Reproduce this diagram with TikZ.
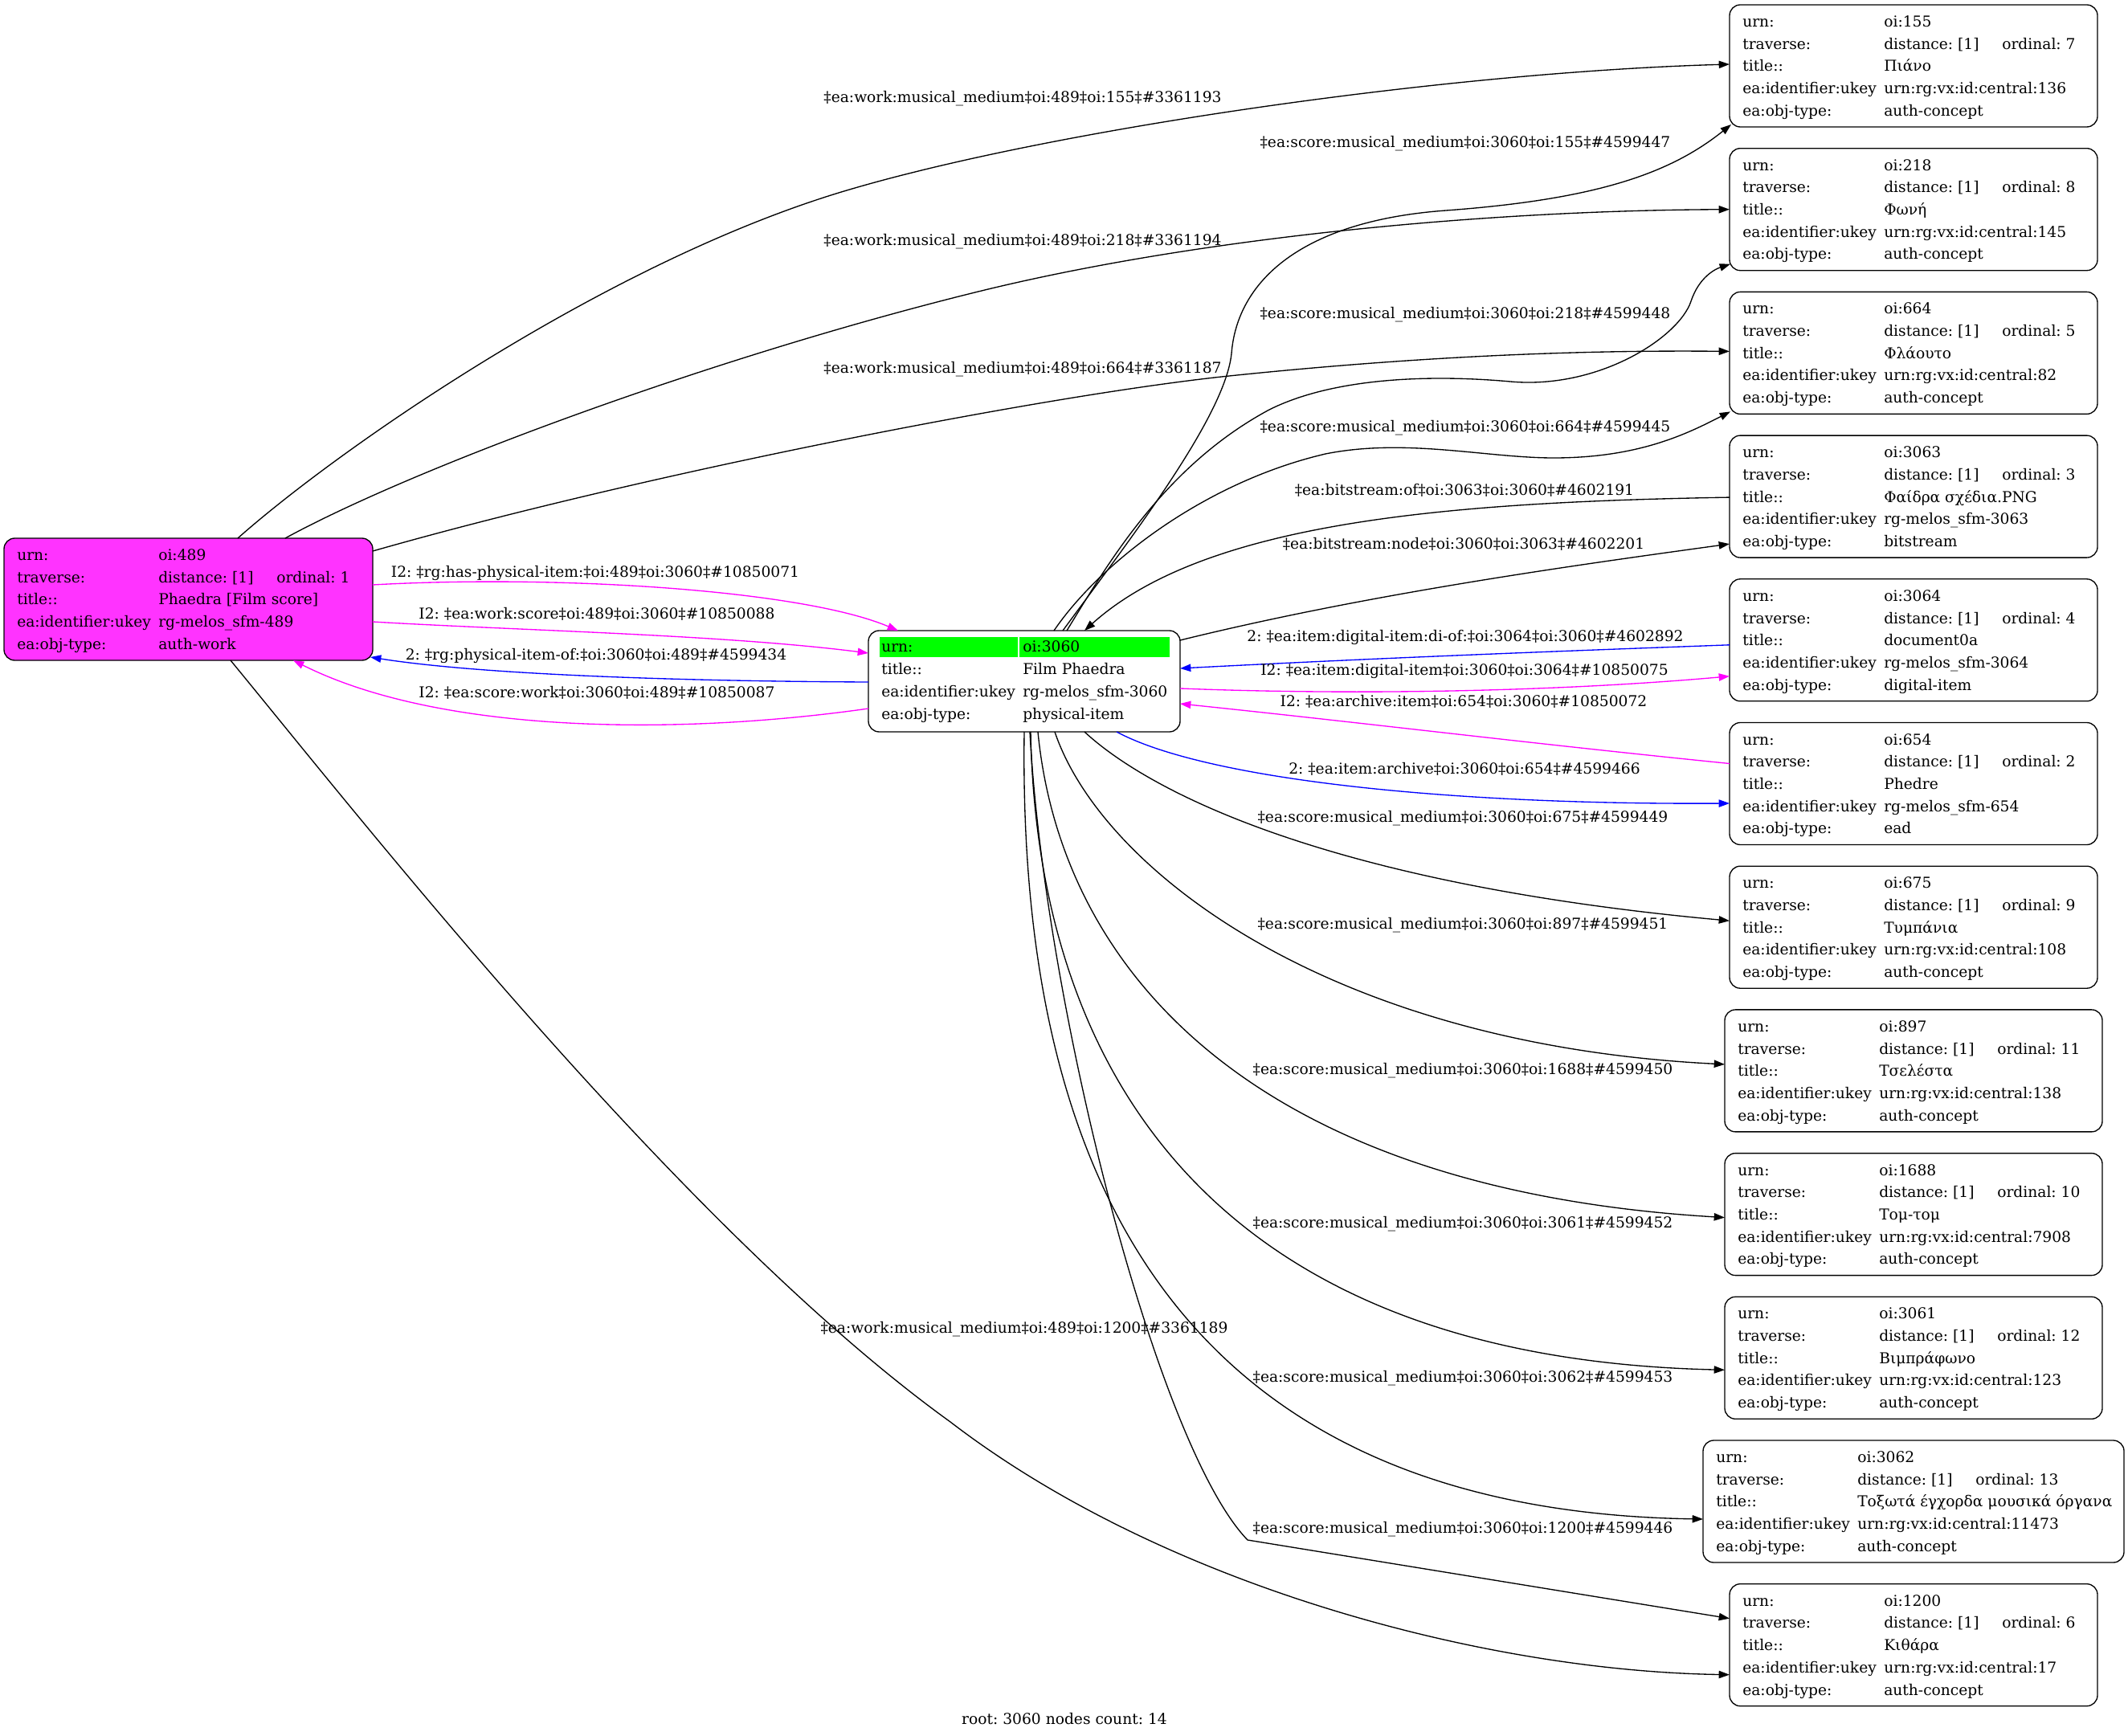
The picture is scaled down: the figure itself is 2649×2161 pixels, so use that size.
\documentclass[tikz,border=0pt]{standalone}
\usepackage{fontspec}
\setmainfont{DejaVu Serif}
\usetikzlibrary{calc,arrows.meta}
\definecolor{lmag}{RGB}{255,51,255}
\definecolor{mag}{RGB}{255,0,255}
\definecolor{blu}{RGB}{0,0,255}
\definecolor{grn}{RGB}{0,255,0}
\newcommand\fs{\fontsize{14pt}{17pt}\selectfont\frenchspacing}
\def\pxu{0.75pt}
\tikzset{
  recbox/.style={draw=black, line width=1pt, rounded corners=10pt, fill=white, inner sep=0pt, outer sep=0pt},
  cell/.style={anchor=base west, inner sep=0pt, font=\fs},
  lab/.style={inner sep=0pt, font=\fs},
  conn/.style={line width=1pt, -{Triangle[length=10pt,width=7pt]}},
}
% name, left, top, width, urn, ordinal, title, ukey, objtype
\newcommand\fullrec[9]{%
  \node[recbox, minimum width={#4*\pxu}, minimum height={152*\pxu}, anchor=north west] (#1) at (#2,#3) {};
  \node[cell] (#1-k1) at ($(#1.north west)+(16,27.5)$) {urn:};
  \node[cell] (#1-v1) at ($(#1.north west)+(192,27.5)$) {#5};
  \node[cell] (#1-k2) at ($(#1.north west)+(16,55.2)$) {traverse:};
  \node[cell] (#1-v2) at ($(#1.north west)+(192,55.2)$) {distance: [1]};
  \node[cell] (#1-o2) at ($(#1.north west)+(339,55.2)$) {ordinal: #6};
  \node[cell] (#1-k3) at ($(#1.north west)+(16,82.9)$) {title::};
  \node[cell] (#1-v3) at ($(#1.north west)+(192,82.9)$) {#7};
  \node[cell] (#1-k4) at ($(#1.north west)+(16,110.6)$) {ea:identifier:ukey};
  \node[cell] (#1-v4) at ($(#1.north west)+(192,110.6)$) {#8};
  \node[cell] (#1-k5) at ($(#1.north west)+(16,138.3)$) {ea:obj-type:};
  \node[cell] (#1-v5) at ($(#1.north west)+(192,138.3)$) {#9};
}
\begin{document}
\begin{tikzpicture}[x=0.75pt, y=-0.75pt]
\useasboundingbox (0,0) rectangle (2649,2161);

% ---------- nodes ----------
\begin{scope}[recbox/.append style={fill=lmag}]
\fullrec{n489}{5}{670}{459}{oi:489}{1}{Phaedra [Film score]}{rg-melos\_sfm-489}{auth-work}
\end{scope}

\node[recbox, minimum width={388*\pxu}, minimum height={126*\pxu}, anchor=north west] (n3060) at (1081,785) {};
\fill[grn] ($(n3060.north west)+(14,8)$) rectangle ($(n3060.north west)+(186,33)$);
\fill[grn] ($(n3060.north west)+(188,8)$) rectangle ($(n3060.north west)+(375,33)$);
\node[cell] (n3060-k1) at ($(n3060.north west)+(16,26)$) {urn:};
\node[cell] (n3060-v1) at ($(n3060.north west)+(192,26)$) {oi:3060};
\node[cell] (n3060-k2) at ($(n3060.north west)+(16,54)$) {title::};
\node[cell] (n3060-v2) at ($(n3060.north west)+(192,54)$) {Film Phaedra};
\node[cell] (n3060-k3) at ($(n3060.north west)+(16,82)$) {ea:identifier:ukey};
\node[cell] (n3060-v3) at ($(n3060.north west)+(192,82)$) {rg-melos\_sfm-3060};
\node[cell] (n3060-k4) at ($(n3060.north west)+(16,110)$) {ea:obj-type:};
\node[cell] (n3060-v4) at ($(n3060.north west)+(192,110)$) {physical-item};

\fullrec{r155}{2153}{6}{458}{oi:155}{7}{Πιάνο}{urn:rg:vx:id:central:136}{auth-concept}
\fullrec{r218}{2153}{184.7}{458}{oi:218}{8}{Φωνή}{urn:rg:vx:id:central:145}{auth-concept}
\fullrec{r664}{2153}{363.4}{458}{oi:664}{5}{Φλάουτο}{urn:rg:vx:id:central:82}{auth-concept}
\fullrec{r3063}{2153}{542.1}{458}{oi:3063}{3}{Φαίδρα σχέδια.PNG}{rg-melos\_sfm-3063}{bitstream}
\fullrec{r3064}{2153}{720.8}{458}{oi:3064}{4}{document0a}{rg-melos\_sfm-3064}{digital-item}
\fullrec{r654}{2153}{899.5}{458}{oi:654}{2}{Phedre}{rg-melos\_sfm-654}{ead}
\fullrec{r675}{2153}{1078.2}{458}{oi:675}{9}{Τυμπάνια}{urn:rg:vx:id:central:108}{auth-concept}
\fullrec{r897}{2147}{1256.9}{470}{oi:897}{11}{Τσελέστα}{urn:rg:vx:id:central:138}{auth-concept}
\fullrec{r1688}{2147}{1435.6}{470}{oi:1688}{10}{Τομ-τομ}{urn:rg:vx:id:central:7908}{auth-concept}
\fullrec{r3061}{2147}{1614.3}{470}{oi:3061}{12}{Βιμπράφωνο}{urn:rg:vx:id:central:123}{auth-concept}
\fullrec{r3062}{2120}{1793}{524}{oi:3062}{13}{Τοξωτά έγχορδα μουσικά όργανα}{urn:rg:vx:id:central:11473}{auth-concept}
\fullrec{r1200}{2153}{1971.7}{458}{oi:1200}{6}{Κιθάρα}{urn:rg:vx:id:central:17}{auth-concept}

% ---------- edges from 489 ----------
\draw[conn] ($(n489.north west)+(291,0)$) .. controls (420,560) and (750,330) .. (1044,240) .. controls (1300,162) and (1800,90) .. ($(r155.west)+(0,-2)$);
\draw[conn] ($(n489.north west)+(350,0)$) .. controls (520,580) and (900,440) .. (1230,360) .. controls (1500,295) and (1850,262) .. (r218.west);
\draw[conn] ($(n489.north east)+(0,16)$) .. controls (800,590) and (1300,492) .. (1530,468) .. controls (1800,440) and (2000,436) .. ($(r664.west)+(0,-2)$);
\draw[conn] ($(n489.south west)+(282,0)$) .. controls (450,1020) and (850,1530) .. (1183,1770) .. controls (1450,1975) and (1850,2080) .. ($(r1200.west)+(0,37)$);
\draw[conn, mag] ($(n489.north east)+(0,58)$) .. controls (700,715) and (1000,735) .. ($(n3060.north west)+(37,0)$);
\draw[conn, mag] ($(n489.north east)+(0,104)$) .. controls (650,785) and (900,790) .. ($(n3060.north west)+(0,28)$);
\draw[conn, blu] ($(n3060.north west)+(0,64)$) .. controls (850,848) and (600,840) .. ($(n489.south east)+(-3,-4)$);
\draw[conn, mag] ($(n3060.north west)+(0,97)$) .. controls (850,915) and (550,915) .. ($(n489.south west)+(360,0)$);

% ---------- edges from 3060 upward ----------
\draw[conn] ($(n3060.north west)+(242,0)$) .. controls (1400,680) and (1525,520) .. (1533,440) .. controls (1540,350) and (1620,275) .. (1800,262) .. controls (1990,248) and (2080,215) .. ($(r155.south west)+(2,-3)$);
\draw[conn] ($(n3060.north west)+(247,0)$) .. controls (1380,700) and (1450,580) .. (1580,510) .. controls (1660,470) and (1780,466) .. (1880,475) .. controls (1990,485) and (2090,420) .. (2105,375) .. controls (2115,345) and (2135,335) .. ($(r218.south west)+(1,-8)$);
\draw[conn] ($(n3060.north west)+(231,0)$) .. controls (1370,700) and (1500,600) .. (1650,565) .. controls (1750,545) and (1850,570) .. (1934,570) .. controls (2040,570) and (2100,540) .. ($(r664.south west)+(1,-3)$);
\draw[conn] ($(r3063.west)+(0,1)$) .. controls (1800,625) and (1500,650) .. ($(n3060.north west)+(269,0)$);
\draw[conn] ($(n3060.north east)+(0,12)$) .. controls (1700,740) and (1950,705) .. ($(r3063.west)+(0,59)$);
\draw[conn, blu] ($(r3064.west)+(0,6)$) .. controls (1900,812) and (1700,820) .. ($(n3060.north east)+(0,47)$);
\draw[conn, mag] ($(n3060.north east)+(0,72)$) .. controls (1700,866) and (1950,860) .. ($(r3064.west)+(0,45)$);
\draw[conn, mag] ($(r654.west)+(0,-25)$) .. controls (1900,925) and (1700,900) .. ($(n3060.north east)+(0,91)$);
\draw[conn, blu] ($(n3060.south west)+(309,0)$) .. controls (1500,970) and (1800,1002) .. ($(r654.west)+(0,24.5)$);

% ---------- edges from 3060 downward ----------
\draw[conn] ($(n3060.south west)+(269,0)$) .. controls (1430,985) and (1650,1100) .. ($(r675.west)+(0,-8)$);
\draw[conn] ($(n3060.south west)+(232,0)$) .. controls (1370,1080) and (1650,1300) .. ($(r897.west)+(0,-8)$);
\draw[conn] ($(n3060.south west)+(211,0)$) .. controls (1320,1200) and (1550,1480) .. ($(r1688.west)+(0,4)$);
\draw[conn] ($(n3060.south west)+(202,0)$) .. controls (1290,1300) and (1480,1690) .. ($(r3061.west)+(0,15)$);
\draw[conn] ($(n3060.south west)+(194,0)$) .. controls (1268,1400) and (1420,1880) .. ($(r3062.west)+(0,22)$);
\draw[conn] ($(n3060.south west)+(201,0)$) .. controls (1300,1250) and (1440,1800) .. (1553,1917) -- ($(r1200.west)+(0,-33)$);

% ---------- labels ----------
\node[lab] (l1) at (1273,123) {‡ea:work:musical\_medium‡oi:489‡oi:155‡\#3361193};
\node[lab] (l2) at (1273,301) {‡ea:work:musical\_medium‡oi:489‡oi:218‡\#3361194};
\node[lab] (l3) at (1273,460) {‡ea:work:musical\_medium‡oi:489‡oi:664‡\#3361187};
\node[lab] (l4) at (1275,1655) {‡ea:work:musical\_medium‡oi:489‡oi:1200‡\#3361189};
\node[lab] (l5) at (741,713) {I2: ‡rg:has-physical-item:‡oi:489‡oi:3060‡\#10850071};
\node[lab] (l6) at (743,764) {I2: ‡ea:work:score‡oi:489‡oi:3060‡\#10850088};
\node[lab] (l7) at (742,816) {2: ‡rg:physical-item-of:‡oi:3060‡oi:489‡\#4599434};
\node[lab] (l8) at (743,862) {I2: ‡ea:score:work‡oi:3060‡oi:489‡\#10850087};
\node[lab] (l9) at (1824,179) {‡ea:score:musical\_medium‡oi:3060‡oi:155‡\#4599447};
\node[lab] (l10) at (1824,392) {‡ea:score:musical\_medium‡oi:3060‡oi:218‡\#4599448};
\node[lab] (l11) at (1824,533) {‡ea:score:musical\_medium‡oi:3060‡oi:664‡\#4599445};
\node[lab] (l12) at (1823,610) {‡ea:bitstream:of‡oi:3063‡oi:3060‡\#4602191};
\node[lab] (l13) at (1822,677) {‡ea:bitstream:node‡oi:3060‡oi:3063‡\#4602201};
\node[lab] (l14) at (1824,793) {2: ‡ea:item:digital-item:di-of:‡oi:3064‡oi:3060‡\#4602892};
\node[lab] (l15) at (1823,835) {I2: ‡ea:item:digital-item‡oi:3060‡oi:3064‡\#10850075};
\node[lab] (l16) at (1822,873) {I2: ‡ea:archive:item‡oi:654‡oi:3060‡\#10850072};
\node[lab] (l17) at (1823,957) {2: ‡ea:item:archive‡oi:3060‡oi:654‡\#4599466};
\node[lab] (l18) at (1821,1019) {‡ea:score:musical\_medium‡oi:3060‡oi:675‡\#4599449};
\node[lab] (l19) at (1821,1152) {‡ea:score:musical\_medium‡oi:3060‡oi:897‡\#4599451};
\node[lab] (l20) at (1821,1333) {‡ea:score:musical\_medium‡oi:3060‡oi:1688‡\#4599450};
\node[lab] (l21) at (1821,1524) {‡ea:score:musical\_medium‡oi:3060‡oi:3061‡\#4599452};
\node[lab] (l22) at (1821,1716) {‡ea:score:musical\_medium‡oi:3060‡oi:3062‡\#4599453};
\node[lab] (l23) at (1821,1904) {‡ea:score:musical\_medium‡oi:3060‡oi:1200‡\#4599446};

\node[lab] (footer) at (1325,2140) {root: 3060 nodes count: 14};
\end{tikzpicture}
\end{document}
